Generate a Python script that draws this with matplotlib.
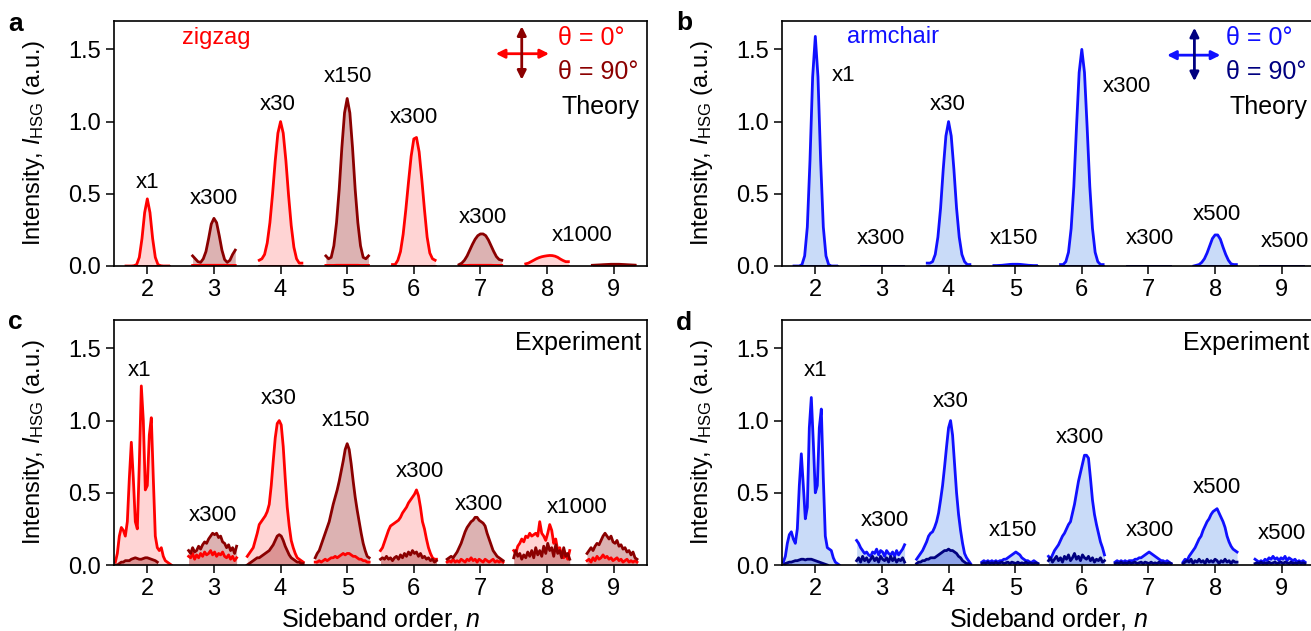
"""
High-order sideband intensities, zigzag vs armchair, theory vs experiment.
Four panels (a-d), each sideband drawn as its own filled segment.
"""
import matplotlib
matplotlib.use("Agg")
import matplotlib.pyplot as plt

plt.rcParams["font.family"] = ["Liberation Sans", "DejaVu Sans"]
plt.rcParams["mathtext.fontset"] = "custom"
plt.rcParams["mathtext.rm"] = "Liberation Sans"
plt.rcParams["mathtext.it"] = "Liberation Sans:italic"


# ---------- 1. DATA --------------------------------------------------------
ORDERS = [2, 3, 4, 5, 6, 7, 8, 9]

# theory curves: offsets from the sideband order n
TH_OFF = [-0.32, -0.28, -0.24, -0.20, -0.16, -0.12, -0.08, -0.04, 0.0,
          0.04, 0.08, 0.12, 0.16, 0.20, 0.24, 0.28, 0.32]

# (a) zigzag theory, theta = 0 deg
A_0 = {
    2: [0, 0, 0, 0.002, 0.01, 0.06, 0.19, 0.37, 0.465, 0.37, 0.19, 0.06, 0.01, 0.002, 0, 0, 0],
    3: [0.004, 0.004, 0.004, 0.004, 0.005, 0.005, 0.005, 0.005, 0.005, 0.005, 0.005, 0.005, 0.005, 0.004, 0.004, 0.004, 0.004],
    4: [0.04, 0.05, 0.08, 0.16, 0.30, 0.50, 0.73, 0.92, 1.0, 0.92, 0.73, 0.49, 0.28, 0.13, 0.05, 0.02, 0.02],
    5: [0.004, 0.004, 0.004, 0.004, 0.005, 0.005, 0.005, 0.005, 0.005, 0.005, 0.005, 0.005, 0.005, 0.004, 0.004, 0.004, 0.004],
    6: [0.01, 0.01, 0.04, 0.10, 0.22, 0.39, 0.58, 0.76, 0.88, 0.89, 0.79, 0.60, 0.39, 0.20, 0.09, 0.05, 0.04],
    7: [0.004, 0.004, 0.004, 0.004, 0.005, 0.005, 0.005, 0.005, 0.005, 0.005, 0.005, 0.005, 0.005, 0.004, 0.004, 0.004, 0.004],
    8: [0.015, 0.02, 0.03, 0.04, 0.05, 0.058, 0.064, 0.068, 0.071, 0.073, 0.072, 0.068, 0.06, 0.048, 0.038, 0.03, 0.03],
    9: [0.004, 0.004, 0.004, 0.004, 0.005, 0.005, 0.005, 0.005, 0.005, 0.005, 0.005, 0.005, 0.005, 0.004, 0.004, 0.004, 0.004],
}
# (a) zigzag theory, theta = 90 deg
A_90 = {
    2: [0.003, 0.003, 0.003, 0.003, 0.003, 0.003, 0.003, 0.003, 0.003, 0.003, 0.003, 0.003, 0.003, 0.003, 0.003, 0.003, 0.003],
    3: [0.07, 0.05, 0.03, 0.025, 0.05, 0.10, 0.19, 0.29, 0.33, 0.30, 0.21, 0.11, 0.045, 0.025, 0.04, 0.08, 0.11],
    4: [0.003, 0.003, 0.003, 0.003, 0.003, 0.003, 0.003, 0.003, 0.003, 0.003, 0.003, 0.003, 0.003, 0.003, 0.003, 0.003, 0.003],
    5: [0.07, 0.05, 0.06, 0.14, 0.30, 0.53, 0.82, 1.06, 1.16, 1.06, 0.82, 0.53, 0.30, 0.14, 0.06, 0.05, 0.07],
    6: [0.003, 0.003, 0.003, 0.003, 0.003, 0.003, 0.003, 0.003, 0.003, 0.003, 0.003, 0.003, 0.003, 0.003, 0.003, 0.003, 0.003],
    7: [0.01, 0.02, 0.04, 0.07, 0.11, 0.15, 0.185, 0.21, 0.222, 0.222, 0.21, 0.18, 0.14, 0.10, 0.065, 0.045, 0.04],
    8: [0.003, 0.003, 0.003, 0.003, 0.003, 0.003, 0.003, 0.003, 0.003, 0.003, 0.003, 0.003, 0.003, 0.003, 0.003, 0.003, 0.003],
    9: [0.005, 0.006, 0.007, 0.008, 0.009, 0.01, 0.011, 0.012, 0.012, 0.012, 0.012, 0.011, 0.01, 0.009, 0.008, 0.007, 0.006],
}
# (b) armchair theory, theta = 0 deg
B_0 = {
    2: [0, 0, 0, 0.01, 0.07, 0.27, 0.73, 1.31, 1.59, 1.31, 0.73, 0.27, 0.07, 0.01, 0, 0, 0],
    3: [0.003, 0.003, 0.003, 0.003, 0.003, 0.003, 0.003, 0.003, 0.003, 0.003, 0.003, 0.003, 0.003, 0.003, 0.003, 0.003, 0.003],
    4: [0.02, 0.02, 0.03, 0.08, 0.20, 0.40, 0.67, 0.90, 1.0, 0.90, 0.67, 0.40, 0.20, 0.08, 0.03, 0.01, 0.01],
    5: [0.003, 0.003, 0.004, 0.005, 0.007, 0.009, 0.011, 0.012, 0.012, 0.012, 0.011, 0.009, 0.007, 0.005, 0.004, 0.003, 0.003],
    6: [0.01, 0.01, 0.03, 0.095, 0.26, 0.55, 0.96, 1.34, 1.50, 1.34, 0.96, 0.55, 0.26, 0.095, 0.03, 0.01, 0.01],
    7: [0.003, 0.003, 0.003, 0.003, 0.003, 0.003, 0.003, 0.003, 0.003, 0.003, 0.003, 0.003, 0.003, 0.003, 0.003, 0.003, 0.003],
    8: [0, 0.005, 0.01, 0.025, 0.05, 0.09, 0.14, 0.19, 0.215, 0.215, 0.185, 0.13, 0.08, 0.04, 0.015, 0.01, 0.01],
    9: [0.003, 0.003, 0.003, 0.003, 0.003, 0.003, 0.003, 0.003, 0.003, 0.003, 0.003, 0.003, 0.003, 0.003, 0.003, 0.003, 0.003],
}
# (b) armchair theory, theta = 90 deg (all sidebands vanish)
B_90 = {
    n: [0.002, 0.002, 0.002, 0.002, 0.002, 0.002, 0.002, 0.002, 0.002,
        0.002, 0.002, 0.002, 0.002, 0.002, 0.002, 0.002, 0.002]
    for n in ORDERS
}

# experiment: sampled every EXP_STEP starting at *_START[n]
EXP_STEP = 0.03

# (c) zigzag experiment
C_START = {2: 1.52, 3: 2.62, 4: 3.50, 5: 4.52, 6: 5.50, 7: 6.50, 8: 7.50, 9: 8.60}
C_0 = {
    2: [0.02, 0.08, 0.20, 0.26, 0.24, 0.20, 0.30, 0.60, 0.85, 0.60, 0.30, 0.25, 0.70, 1.24, 1.00,
        0.52, 0.55, 0.90, 1.02, 0.60, 0.20, 0.12, 0.10, 0.12, 0.06, 0.03, 0.02, 0.01, 0.0],
    3: [0.06, 0.05, 0.08, 0.04, 0.07, 0.05, 0.08, 0.06, 0.09, 0.07, 0.08, 0.10, 0.07, 0.09, 0.06,
        0.08, 0.07, 0.09, 0.06, 0.05, 0.07, 0.04, 0.06, 0.03, 0.05],
    4: [0.06, 0.08, 0.10, 0.12, 0.17, 0.22, 0.28, 0.30, 0.32, 0.34, 0.37, 0.42, 0.55, 0.72, 0.88,
        0.98, 1.00, 0.97, 0.82, 0.60, 0.40, 0.27, 0.17, 0.12, 0.08, 0.05, 0.04, 0.03, 0.02],
    5: [0.02, 0.02, 0.03, 0.02, 0.03, 0.04, 0.03, 0.04, 0.05, 0.05, 0.06, 0.05, 0.06, 0.07, 0.08,
        0.07, 0.08, 0.08, 0.07, 0.06, 0.06, 0.05, 0.04, 0.04, 0.03, 0.03, 0.02, 0.02],
    6: [0.10, 0.12, 0.16, 0.20, 0.24, 0.27, 0.28, 0.29, 0.30, 0.31, 0.33, 0.36, 0.38, 0.40, 0.43,
        0.45, 0.47, 0.49, 0.52, 0.48, 0.40, 0.30, 0.25, 0.18, 0.12, 0.08, 0.05, 0.04, 0.04],
    7: [0.02, 0.03, 0.02, 0.04, 0.02, 0.03, 0.02, 0.04, 0.03, 0.02, 0.04, 0.03, 0.05, 0.03, 0.04,
        0.02, 0.04, 0.03, 0.02, 0.04, 0.03, 0.02, 0.03, 0.04, 0.02, 0.03, 0.02, 0.03, 0.02],
    8: [0.10, 0.08, 0.13, 0.15, 0.18, 0.16, 0.20, 0.19, 0.22, 0.20, 0.21, 0.22, 0.20, 0.30, 0.22,
        0.20, 0.17, 0.22, 0.28, 0.24, 0.15, 0.18, 0.10, 0.12, 0.07, 0.05, 0.08, 0.04, 0.10],
    9: [0.03, 0.04, 0.02, 0.05, 0.03, 0.06, 0.04, 0.05, 0.07, 0.05, 0.06, 0.04, 0.05, 0.03, 0.04,
        0.05, 0.03, 0.04, 0.02, 0.03, 0.04, 0.02, 0.03, 0.02, 0.03, 0.02],
}
C_90 = {
    2: [0.0, 0.0, 0.01, 0.02, 0.02, 0.03, 0.03, 0.03, 0.04, 0.045, 0.05, 0.045, 0.04, 0.04, 0.045,
        0.05, 0.05, 0.045, 0.04, 0.035, 0.03, 0.02],
    3: [0.10, 0.08, 0.12, 0.09, 0.10, 0.13, 0.11, 0.14, 0.16, 0.15, 0.18, 0.20, 0.22, 0.21, 0.22,
        0.19, 0.20, 0.16, 0.15, 0.12, 0.14, 0.10, 0.12, 0.08, 0.13],
    4: [0.0, 0.01, 0.02, 0.03, 0.04, 0.05, 0.05, 0.06, 0.07, 0.08, 0.09, 0.10, 0.12, 0.14, 0.17,
        0.20, 0.21, 0.20, 0.17, 0.13, 0.10, 0.07, 0.05, 0.04, 0.03, 0.02, 0.02, 0.01, 0.01],
    5: [0.05, 0.08, 0.10, 0.14, 0.18, 0.22, 0.26, 0.30, 0.36, 0.42, 0.47, 0.52, 0.58, 0.65, 0.72,
        0.80, 0.84, 0.80, 0.70, 0.58, 0.47, 0.38, 0.30, 0.22, 0.15, 0.10, 0.06, 0.05],
    6: [0.04, 0.05, 0.04, 0.06, 0.04, 0.05, 0.03, 0.05, 0.06, 0.04, 0.07, 0.05, 0.08, 0.06, 0.09,
        0.07, 0.10, 0.08, 0.09, 0.06, 0.08, 0.05, 0.06, 0.04, 0.05, 0.03, 0.04, 0.02, 0.03],
    7: [0.04, 0.05, 0.06, 0.05, 0.07, 0.09, 0.12, 0.15, 0.19, 0.23, 0.26, 0.28, 0.30, 0.31, 0.33,
        0.33, 0.31, 0.30, 0.29, 0.27, 0.22, 0.18, 0.14, 0.10, 0.08, 0.06, 0.05, 0.04, 0.03],
    8: [0.05, 0.10, 0.06, 0.08, 0.04, 0.07, 0.05, 0.09, 0.06, 0.10, 0.05, 0.12, 0.07, 0.10, 0.06,
        0.13, 0.08, 0.15, 0.10, 0.12, 0.06, 0.14, 0.08, 0.10, 0.05, 0.12, 0.06, 0.08, 0.04],
    9: [0.08, 0.10, 0.12, 0.10, 0.13, 0.15, 0.14, 0.17, 0.20, 0.22, 0.20, 0.18, 0.20, 0.16, 0.15,
        0.17, 0.13, 0.14, 0.11, 0.12, 0.09, 0.10, 0.07, 0.09, 0.05, 0.04],
}

# (d) armchair experiment
D_START = {2: 1.52, 3: 2.62, 4: 3.52, 5: 4.50, 6: 5.50, 7: 6.50, 8: 7.52, 9: 8.60}
D_0 = {
    2: [0.02, 0.06, 0.15, 0.21, 0.23, 0.18, 0.15, 0.25, 0.55, 0.77, 0.55, 0.32, 0.40, 0.95, 1.16,
        0.85, 0.50, 0.55, 0.95, 1.08, 0.60, 0.20, 0.12, 0.11, 0.10, 0.05, 0.02, 0.01, 0.0],
    3: [0.17, 0.15, 0.12, 0.10, 0.08, 0.09, 0.07, 0.06, 0.09, 0.08, 0.11, 0.07, 0.10, 0.09, 0.06,
        0.10, 0.08, 0.07, 0.09, 0.06, 0.10, 0.07, 0.09, 0.11, 0.14],
    4: [0.04, 0.06, 0.08, 0.10, 0.13, 0.16, 0.20, 0.22, 0.23, 0.26, 0.30, 0.36, 0.45, 0.55, 0.68,
        0.82, 0.95, 1.00, 0.90, 0.70, 0.50, 0.35, 0.24, 0.15, 0.08, 0.05, 0.03, 0.01],
    5: [0.02, 0.03, 0.02, 0.03, 0.02, 0.03, 0.02, 0.03, 0.02, 0.03, 0.03, 0.04, 0.04, 0.05, 0.06,
        0.07, 0.08, 0.09, 0.08, 0.07, 0.05, 0.04, 0.03, 0.03, 0.02, 0.02, 0.03, 0.02, 0.01],
    6: [0.06, 0.04, 0.07, 0.10, 0.12, 0.14, 0.17, 0.20, 0.22, 0.25, 0.28, 0.30, 0.36, 0.42, 0.50,
        0.58, 0.64, 0.70, 0.76, 0.76, 0.74, 0.60, 0.45, 0.35, 0.28, 0.22, 0.16, 0.12, 0.07],
    7: [0.02, 0.03, 0.02, 0.03, 0.02, 0.03, 0.02, 0.03, 0.03, 0.03, 0.04, 0.04, 0.05, 0.05, 0.06,
        0.07, 0.08, 0.09, 0.08, 0.07, 0.06, 0.05, 0.04, 0.03, 0.03, 0.02, 0.03, 0.02, 0.01],
    8: [0.02, 0.04, 0.03, 0.06, 0.08, 0.10, 0.12, 0.15, 0.18, 0.20, 0.24, 0.27, 0.30, 0.32, 0.35,
        0.37, 0.38, 0.39, 0.36, 0.33, 0.30, 0.26, 0.20, 0.16, 0.13, 0.11, 0.10, 0.09],
    9: [0.04, 0.03, 0.02, 0.03, 0.02, 0.04, 0.03, 0.05, 0.04, 0.06, 0.04, 0.05, 0.03, 0.05, 0.04,
        0.06, 0.03, 0.05, 0.04, 0.03, 0.04, 0.02, 0.03, 0.02, 0.03, 0.02],
}
D_90 = {
    2: [0.0, 0.01, 0.015, 0.02, 0.02, 0.025, 0.03, 0.03, 0.035, 0.04, 0.04, 0.035, 0.04, 0.04,
        0.04, 0.035, 0.03, 0.025, 0.02, 0.015, 0.01, 0.005, 0.0],
    3: [0.03, 0.05, 0.02, 0.06, 0.03, 0.05, 0.02, 0.04, 0.06, 0.03, 0.05, 0.02, 0.06, 0.04, 0.03,
        0.05, 0.02, 0.06, 0.03, 0.05, 0.02, 0.04, 0.03, 0.05, 0.02],
    4: [0.01, 0.02, 0.02, 0.03, 0.03, 0.04, 0.04, 0.05, 0.05, 0.05, 0.06, 0.07, 0.08, 0.09, 0.10,
        0.10, 0.11, 0.10, 0.10, 0.09, 0.08, 0.06, 0.05, 0.03, 0.02, 0.01, 0.01, 0.0],
    5: [0.01, 0.015, 0.01, 0.02, 0.01, 0.015, 0.01, 0.02, 0.01, 0.015, 0.02, 0.01, 0.015, 0.02,
        0.01, 0.02, 0.015, 0.01, 0.02, 0.01, 0.015, 0.01, 0.02, 0.01, 0.015, 0.01, 0.01, 0.015, 0.01],
    6: [0.03, 0.05, 0.02, 0.04, 0.06, 0.03, 0.05, 0.02, 0.06, 0.04, 0.07, 0.03, 0.05, 0.08, 0.04,
        0.06, 0.03, 0.07, 0.05, 0.04, 0.06, 0.03, 0.05, 0.02, 0.04, 0.03, 0.05, 0.02, 0.03],
    7: [0.01, 0.015, 0.01, 0.02, 0.01, 0.015, 0.01, 0.02, 0.01, 0.015, 0.02, 0.01, 0.015, 0.02,
        0.01, 0.02, 0.015, 0.01, 0.02, 0.01, 0.015, 0.01, 0.02, 0.01, 0.015, 0.01, 0.01, 0.015, 0.01],
    8: [0.01, 0.02, 0.03, 0.02, 0.04, 0.01, 0.03, 0.02, 0.04, 0.02, 0.03, 0.01, 0.04, 0.02, 0.03,
        0.02, 0.04, 0.03, 0.01, 0.03, 0.02, 0.04, 0.02, 0.03, 0.01, 0.03, 0.02, 0.02],
    9: [0.01, 0.015, 0.01, 0.02, 0.01, 0.015, 0.01, 0.02, 0.01, 0.015, 0.02, 0.01, 0.015, 0.02,
        0.01, 0.02, 0.015, 0.01, 0.02, 0.01, 0.015, 0.01, 0.02, 0.01, 0.015, 0.01],
}

# multiplication factors written above each sideband
A_MULT = ["x1", "x300", "x30", "x150", "x300", "x300", "x1000"]
B_MULT = ["x1", "x300", "x30", "x150", "x300", "x300", "x500", "x500"]
C_MULT = ["x1", "x300", "x30", "x150", "x300", "x300", "x1000"]
D_MULT = ["x1", "x300", "x30", "x150", "x300", "x300", "x500", "x500"]

# ---------- 2. LAYOUT ------------------------------------------------------
A_MULT_XY = [(2.01, 0.575), (3.0, 0.465), (3.95, 1.12), (5.01, 1.31),
             (6.0, 1.03), (7.04, 0.334), (8.53, 0.214)]
B_MULT_XY = [(2.43, 1.32), (2.98, 0.19), (3.99, 1.12), (4.98, 0.19),
             (6.67, 1.24), (7.02, 0.19), (8.02, 0.36), (9.05, 0.17)]
C_MULT_XY = [(1.89, 1.35), (2.98, 0.34), (3.97, 1.15), (4.98, 1.0),
             (6.09, 0.65), (6.97, 0.42), (8.45, 0.40)]
D_MULT_XY = [(2.01, 1.35), (3.04, 0.31), (4.03, 1.13), (4.96, 0.24),
             (5.97, 0.88), (7.02, 0.24), (8.03, 0.54), (9.0, 0.22)]

RED, DKRED = "#ff0000", "#8b0000"
BLUE, NAVY = "#1010ff", "#000080"
STYLE = {
    "zigzag": dict(c0=RED, c90=DKRED, f0="#ff0000", a0=0.17, f90="#8b0000", a90=0.30),
    "armchair": dict(c0=BLUE, c90=NAVY, f0="#7aa7ee", a0=0.40, f90="#2040d0", a90=0.35),
}

FIG_W, FIG_H = 1311, 631
W_AX, H_AX = 533 / FIG_W, 245.5 / FIG_H
LEFT_L, LEFT_R = 114 / FIG_W, 782 / FIG_W
BOT_TOP, BOT_BOT = (FIG_H - 266) / FIG_H, (FIG_H - 565) / FIG_H

fig = plt.figure(figsize=(FIG_W / 100, FIG_H / 100), dpi=100)
ax_a = fig.add_axes([LEFT_L, BOT_TOP, W_AX, H_AX])
ax_b = fig.add_axes([LEFT_R, BOT_TOP, W_AX, H_AX])
ax_c = fig.add_axes([LEFT_L, BOT_BOT, W_AX, H_AX])
ax_d = fig.add_axes([LEFT_R, BOT_BOT, W_AX, H_AX])


# ---------- 3. DRAWING HELPERS ---------------------------------------------
def style_axes(ax, xlabel):
    ax.set_xlim(1.5, 9.5)
    ax.set_ylim(0, 1.7)
    ax.set_xticks(ORDERS)
    ax.set_yticks([0, 0.5, 1.0, 1.5])
    ax.set_yticklabels(["0.0", "0.5", "1.0", "1.5"])
    ax.tick_params(direction="out", length=5.5, width=1.1, labelsize=17, pad=4,
                   top=False, right=False)
    for sp in ax.spines.values():
        sp.set_linewidth(1.2)
    ax.set_ylabel(r"Intensity, $I_{\mathrm{HSG}}$ (a.u.)", fontsize=17)
    ax.yaxis.set_label_coords(-0.125, 0.5)
    if xlabel:
        ax.set_xlabel(r"Sideband order, $n$", fontsize=18)
        ax.xaxis.set_label_coords(0.5, -0.165)


def draw_segments(ax, segs0, segs90, st):
    # fills first, then the lines on top
    for xs, ys in segs0:
        ax.fill_between(xs, 0, ys, color=st["f0"], alpha=st["a0"], lw=0)
    for xs, ys in segs90:
        ax.fill_between(xs, 0, ys, color=st["f90"], alpha=st["a90"], lw=0)
    for xs, ys in segs0:
        ax.plot(xs, ys, color=st["c0"], lw=2.0, solid_joinstyle="round")
    for xs, ys in segs90:
        ax.plot(xs, ys, color=st["c90"], lw=2.0, solid_joinstyle="round")


def theory_segs(curves):
    return [([n + d for d in TH_OFF], curves[n]) for n in ORDERS]


def exp_segs(curves, start):
    return [([start[n] + EXP_STEP * i for i in range(len(curves[n]))], curves[n])
            for n in ORDERS]


def label_mults(ax, texts, xy):
    for t, (x, y) in zip(texts, xy):
        ax.text(x, y, t, fontsize=16, ha="center", va="center")


def pol_cross(ax, xh, yc, xc, yv, st):
    ax.annotate("", xy=(xh[1], yc), xytext=(xh[0], yc),
                arrowprops=dict(arrowstyle="<|-|>", color=st["c0"], lw=2,
                                mutation_scale=13, shrinkA=0, shrinkB=0))
    ax.annotate("", xy=(xc, yv[1]), xytext=(xc, yv[0]),
                arrowprops=dict(arrowstyle="<|-|>", color=st["c90"], lw=2,
                                mutation_scale=13, shrinkA=0, shrinkB=0))


# ---------- 4. PANELS ------------------------------------------------------
zz, ac = STYLE["zigzag"], STYLE["armchair"]

draw_segments(ax_a, theory_segs(A_0), theory_segs(A_90), zz)
draw_segments(ax_b, theory_segs(B_0), theory_segs(B_90), ac)
draw_segments(ax_c, exp_segs(C_0, C_START), exp_segs(C_90, C_START), zz)
draw_segments(ax_d, exp_segs(D_0, D_START), exp_segs(D_90, D_START), ac)

for ax, texts, xy in [(ax_a, A_MULT, A_MULT_XY), (ax_b, B_MULT, B_MULT_XY),
                      (ax_c, C_MULT, C_MULT_XY), (ax_d, D_MULT, D_MULT_XY)]:
    label_mults(ax, texts, xy)

style_axes(ax_a, False)
style_axes(ax_b, False)
style_axes(ax_c, True)
style_axes(ax_d, True)

# crystal direction + polarization legend
ax_a.text(3.04, 1.576, "zigzag", color=RED, fontsize=17, ha="center", va="center")
ax_b.text(3.16, 1.587, "armchair", color=BLUE, fontsize=17, ha="center", va="center")
pol_cross(ax_a, (7.23, 8.03), 1.47, 7.62, (1.29, 1.66), zz)
pol_cross(ax_b, (7.28, 8.08), 1.46, 7.69, (1.28, 1.65), ac)
for ax, st in [(ax_a, zz), (ax_b, ac)]:
    ax.text(8.17, 1.576, "θ = 0°", color=st["c0"], fontsize=18, ha="left", va="center")
    ax.text(8.17, 1.34, "θ = 90°", color=st["c90"], fontsize=18, ha="left", va="center")
    ax.text(9.38, 1.10, "Theory", fontsize=18, ha="right", va="center")
for ax in (ax_c, ax_d):
    ax.text(9.41, 1.54, "Experiment", fontsize=18, ha="right", va="center")

# panel letters
for lbl, px, py in [("a", 16, 31), ("b", 684, 30), ("c", 15, 329), ("d", 684, 330)]:
    fig.text(px / FIG_W, 1 - py / FIG_H, lbl, fontsize=19, fontweight="bold",
             ha="center", va="baseline")

fig.savefig("out.png", dpi=100)
